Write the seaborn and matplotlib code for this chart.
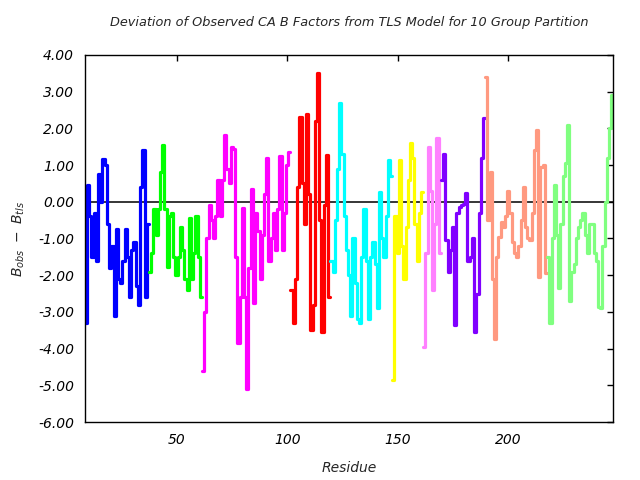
import numpy as np
import pandas as pd
import seaborn as sns
import matplotlib
matplotlib.use("Agg")
import matplotlib.pyplot as plt
from matplotlib.ticker import FixedLocator, FormatStrFormatter

# ---- data (B_obs - B_tls per residue, by TLS group) ----
group_names = ["G1", "G2", "G3", "G4", "G5", "G6", "G7", "G8", "G9", "G10"]
group_start = [9, 38, 62, 102, 120, 148, 162, 170, 190, 218]
group_colors = ["#0000ff", "#00ff00", "#ff00ff", "#ff0000", "#00ffff",
                "#ffff00", "#ff80ff", "#8000ff", "#ff9980", "#80ff80"]

g1 = [-3.3, 0.45, -0.4, -1.5, -0.3, -1.6, 0.75, 0.0, 1.16, 1.0, -0.6, -1.8, -1.2,
      -3.1, -0.75, -2.1, -2.2, -1.6, -0.75, -1.5, -2.6, -1.3, -1.1, -2.3, -2.8,
      0.4, 1.4, -2.6, -0.6]
g2 = [-1.9, -1.4, -0.2, -0.9, -0.2, 0.8, 1.55, -0.2, -1.77, -0.4, -0.3, -1.5,
      -2.0, -1.5, -0.7, -1.3, -2.1, -2.4, -0.45, -2.1, -1.4, -0.4, -1.5, -2.6]
g3 = [-4.6, -3.0, -1.0, -0.1, -0.5, -1.0, -0.4, 0.6, -0.4, 0.6, 1.82, 0.9, 0.5,
      1.5, 1.45, -1.5, -3.86, -2.6, -0.18, -2.6, -5.1, -1.8, 0.36, -2.75, -0.3,
      -0.8, -2.1, -0.9, 0.2, 1.2, -1.6, -1.0, -0.3, -1.3, -0.2, 1.25, -1.3, -0.3,
      1.0, 1.36]
g4 = [-2.4, -3.3, -2.1, 0.4, 2.3, 0.5, -0.6, 2.4, 0.2, -3.5, -2.8, 2.2, 3.5,
      -0.5, -3.55, -0.1, 1.27, -2.6]
g5 = [-1.6, -1.9, -0.5, 0.9, 2.7, 1.3, -0.4, -1.3, -2.0, -3.1, -1.0, -2.2, -3.2,
      -3.3, -1.5, -0.2, -1.6, -3.2, -1.5, -1.1, -1.7, -2.9, 0.27, -1.0, -1.5,
      -0.4, 1.14, 0.7]
g6 = [-4.85, -0.4, -1.4, 1.14, -1.2, -2.1, -0.7, 0.6, 1.6, 1.2, -0.6, -1.6, -0.3,
      0.27]
g7 = [-3.95, -1.4, 1.5, 0.3, -2.4, -0.6, 1.73, -1.4]
g8 = [0.6, 1.3, -1.05, -1.9, -1.3, -0.7, -3.35, -0.3, -0.15, -0.1, -0.05, 0.23,
      -1.6, -1.5, -1.0, -3.55, -2.5, -0.3, 1.2, 2.27]
g9 = [3.4, -0.5, 0.8, -2.1, -3.75, -1.5, -0.95, -0.55, -0.7, -0.4, 0.3, -0.3,
      -1.1, -1.4, -1.5, -1.2, -0.5, 0.4, -0.7, -1.0, -1.05, -0.3, 1.4, 1.95,
      -2.05, 0.95, 1.0, -1.95]
g10 = [-1.5, -3.3, -1.0, 0.45, -0.9, -2.35, -0.6, 0.7, 1.05, 2.1, -2.7, -1.9,
       -1.7, -1.0, -0.7, -0.5, -0.3, -0.9, -1.4, -0.6, -0.6, -1.4, -1.6, -2.86,
       -2.9, -1.2, 0.0, 1.2, 2.0, 2.9]
group_values = [g1, g2, g3, g4, g5, g6, g7, g8, g9, g10]

y_ticks = [-6, -5, -4, -3, -2, -1, 0, 1, 2, 3, 4]
x_ticks = [50, 100, 150, 200]

# ---- build histogram-step table ----
rows = []
for name, start, vals in zip(group_names, group_start, group_values):
    for i, v in enumerate(vals):
        r = start + i
        rows.append((name, r - 0.5, v))
        rows.append((name, r + 0.5, v))
df = pd.DataFrame(rows, columns=["group", "x", "y"])

sns.set_theme(style="white")
plt.rcParams["font.family"] = ["DejaVu Sans"]
plt.rcParams["mathtext.fontset"] = "dejavusans"

fig = plt.figure(figsize=(6.4, 4.8), dpi=100)
ax = fig.add_axes([85 / 640, 1 - 422 / 480, (613 - 85) / 640, (422 - 55) / 480])

ax.axhline(0, color="black", lw=1.1, zorder=1)
sns.lineplot(data=df, x="x", y="y", hue="group", palette=group_colors,
             hue_order=group_names, estimator=None, sort=False, lw=2.3,
             legend=False, ax=ax, zorder=2)

ax.set_xlim(8.6, 247.3)
ax.set_ylim(-6, 4)
ax.xaxis.set_major_locator(FixedLocator(x_ticks))
ax.yaxis.set_major_locator(FixedLocator(y_ticks))
ax.yaxis.set_major_formatter(FormatStrFormatter("%.2f"))
ax.tick_params(direction="in", top=True, right=True, length=4.5, width=1,
               labelsize=10, colors="black", pad=8)
for lab in ax.get_xticklabels() + ax.get_yticklabels():
    lab.set_fontstyle("italic")
for s in ax.spines.values():
    s.set_color("black")
    s.set_linewidth(1.0)

ax.set_xlabel("Residue", fontsize=10, fontstyle="italic", labelpad=10)
ax.set_ylabel(r"$B_{obs}\ -\ B_{tls}$", fontsize=10, labelpad=8)
ax.set_title("Deviation of Observed CA B Factors from TLS Model for 10 Group Partition",
             fontsize=9.3, fontstyle="italic", pad=21)

fig.savefig("out.png", dpi=100)
